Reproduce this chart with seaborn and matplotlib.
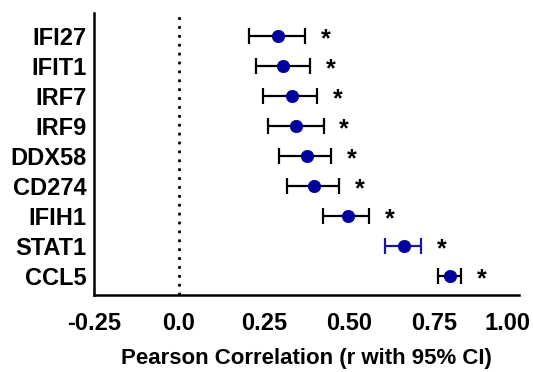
import numpy as np
import pandas as pd
import matplotlib
matplotlib.use("Agg")
import matplotlib.pyplot as plt
import seaborn as sns

genes = ["IFI27", "IFIT1", "IRF7", "IRF9", "DDX58", "CD274", "IFIH1", "STAT1", "CCL5"]
r_values = [0.292, 0.308, 0.332, 0.345, 0.377, 0.398, 0.497, 0.662, 0.799]
ci_low = [0.206, 0.227, 0.249, 0.263, 0.295, 0.318, 0.424, 0.608, 0.763]
ci_high = [0.372, 0.386, 0.408, 0.426, 0.448, 0.472, 0.560, 0.713, 0.831]
xtick_values = [-0.25, 0.0, 0.25, 0.50, 0.75, 1.00]
xtick_labels = ["-0.25", "0.0", "0.25", "0.50", "0.75", "1.00"]

NAVY = "#00009C"

def main():
    df = pd.DataFrame({"gene": genes, "r": r_values, "lo": ci_low, "hi": ci_high})
    df["pos"] = np.arange(len(df))

    sns.set_style("white")
    plt.rcParams["font.family"] = ["Liberation Sans", "DejaVu Sans"]
    plt.rcParams["font.weight"] = "bold"
    plt.rcParams["text.color"] = "black"
    plt.rcParams["xtick.color"] = "black"
    plt.rcParams["ytick.color"] = "black"
    plt.rcParams["axes.labelcolor"] = "black"

    fig = plt.figure(figsize=(5.33, 3.72), dpi=100)
    ax = fig.add_axes([0.176, 0.207, 0.797, 0.759])

    ax.axvline(0, color="black", linestyle=(0, (1, 2.2)), linewidth=2, zorder=1)

    for _, row in df.iterrows():
        col = "#1515A8" if row["gene"] == "STAT1" else "black"
        ax.errorbar(row["r"], row["pos"],
                    xerr=[[row["r"] - row["lo"]], [row["hi"] - row["r"]]],
                    fmt="none", ecolor=col, elinewidth=1.6, capsize=6, capthick=1.6, zorder=2)
        ax.text(row["hi"] + 0.06, row["pos"] + 0.12, "*", fontsize=18, fontweight="bold",
                color="black", ha="center", va="center")

    sns.scatterplot(data=df, x="r", y="pos", ax=ax, color=NAVY, s=80, edgecolor=NAVY,
                    linewidth=0.5, zorder=3, legend=False)

    ax.set_xlim(-0.25, 1.0)
    ax.set_ylim(8.63, -0.76)
    ax.set_yticks(df["pos"])
    ax.set_yticklabels(df["gene"], fontsize=17, fontweight="bold")
    ax.set_xticks(xtick_values)
    # last label is drawn separately, nudged left so it stays inside the figure
    ax.set_xticklabels(xtick_labels[:-1] + [""], fontsize=17, fontweight="bold")
    ax.annotate(xtick_labels[-1], xy=(xtick_values[-1], 0), xycoords=("data", "axes fraction"),
                xytext=(-8, -12.5), textcoords="offset points", ha="center", va="top",
                fontsize=17, fontweight="bold", annotation_clip=False)
    ax.set_ylabel("")
    ax.set_xlabel("Pearson Correlation (r with 95% CI)", fontsize=16, fontweight="bold", labelpad=9)

    sns.despine(ax=ax)
    for side in ["left", "bottom"]:
        ax.spines[side].set_linewidth(1.8)
        ax.spines[side].set_color("black")
    ax.tick_params(axis="x", direction="out", length=5.5, width=1.8, color="black", pad=7)
    ax.tick_params(axis="y", length=0, pad=5)

    fig.savefig("out.png", dpi=100)

if __name__ == "__main__":
    main()
